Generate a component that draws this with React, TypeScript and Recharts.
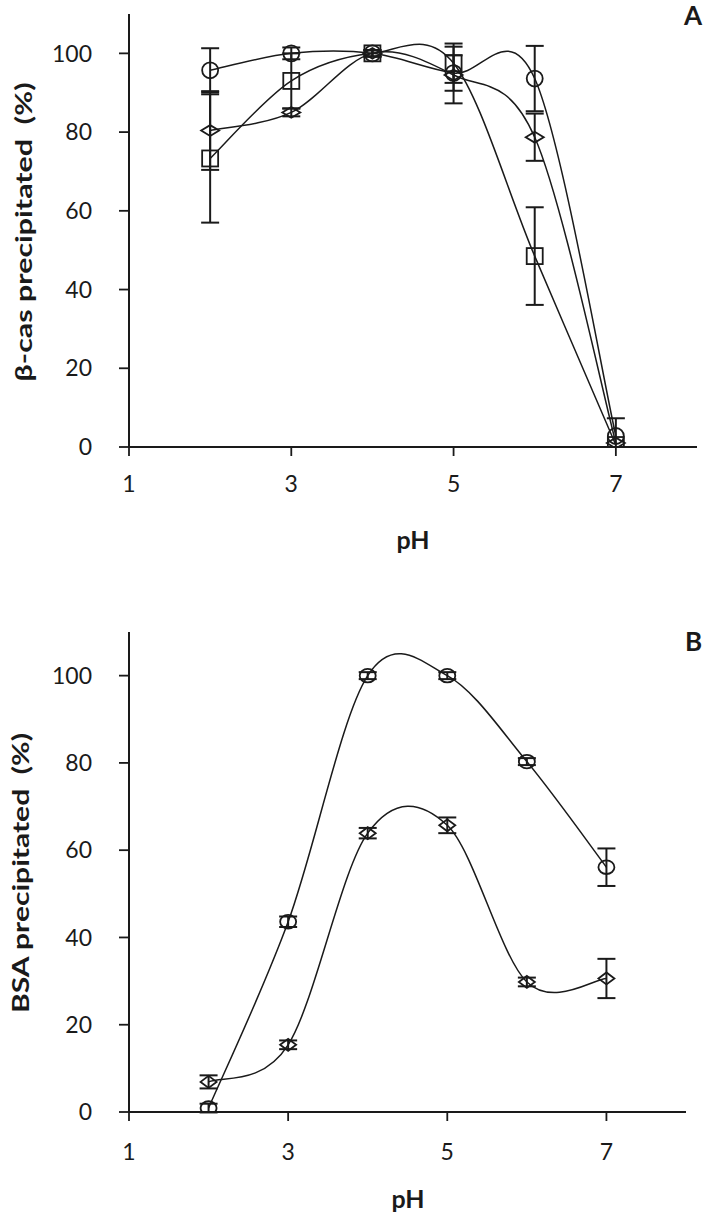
import React from "react";
import { LineChart, Line, XAxis, YAxis, ErrorBar } from "recharts";

// pH values shared by both panels
const phValues = [2, 3, 4, 5, 6, 7];
const phTicks = [1, 3, 5, 7];
const pctTicks = [0, 20, 40, 60, 80, 100];

// Panel A: beta-casein precipitated (%)
const casCircle = [95.7, 100, 100, 95, 93.6, 2.8];
const casCircleErr = [5.6, 1.5, 0.8, 4.5, 8.3, [2.8, 4.5]];
const casSquare = [73.3, 93, 100, 97.5, 48.5, 0.5];
const casSquareErr = [16.3, 7, 0.8, 5, 12.4, null];
const casDiamond = [80.4, 85, 100, 94.5, 78.7, 1];
const casDiamondErr = [10, 1, 0.8, 7.2, 6, null];

// Panel B: BSA precipitated (%)
const bsaCircle = [0.9, 43.6, 100, 100, 80.3, 56.1];
const bsaCircleErr = [1, 1.2, 0.8, 0.8, 0.8, 4.3];
const bsaDiamond = [6.9, 15.4, 63.9, 65.7, 29.8, 30.6];
const bsaDiamondErr = [1.5, 1, 1.2, 1.8, 1, 4.5];

const dataA = phValues.map((ph, i) => ({
  ph,
  circle: casCircle[i], circleErr: casCircleErr[i],
  square: casSquare[i], squareErr: casSquareErr[i],
  diamond: casDiamond[i], diamondErr: casDiamondErr[i],
}));

const dataB = phValues.map((ph, i) => ({
  ph,
  circle: bsaCircle[i], circleErr: bsaCircleErr[i],
  diamond: bsaDiamond[i], diamondErr: bsaDiamondErr[i],
}));

const FONT = "Lato, 'Open Sans', sans-serif";
const INK = "#1a1a1a";

// Excel-like smoothed line (Catmull-Rom through the points)
function smoothCurve(context: any) {
  let pts: number[][] = [];
  return {
    areaStart() {},
    areaEnd() {},
    lineStart() { pts = []; },
    point(x: number, y: number) { pts.push([+x, +y]); },
    lineEnd() {
      const n = pts.length;
      if (!n) return;
      context.moveTo(pts[0][0], pts[0][1]);
      for (let i = 0; i < n - 1; i++) {
        const p0 = pts[Math.max(i - 1, 0)];
        const p1 = pts[i];
        const p2 = pts[i + 1];
        const p3 = pts[Math.min(i + 2, n - 1)];
        context.bezierCurveTo(
          p1[0] + (p2[0] - p0[0]) / 6, p1[1] + (p2[1] - p0[1]) / 6,
          p2[0] - (p3[0] - p1[0]) / 6, p2[1] - (p3[1] - p1[1]) / 6,
          p2[0], p2[1],
        );
      }
    },
  };
}

function makeDot(shape: string, size = 8, flat = 1) {
  return (p: any) => {
    const { cx, cy, index } = p;
    if (cx == null || cy == null) return <g key={index} />;
    const common = { fill: "none", stroke: INK, strokeWidth: 1.8 };
    if (shape === "circle") {
      return <ellipse key={index} cx={cx} cy={cy} rx={size} ry={size * flat} {...common} />;
    }
    if (shape === "square") {
      return <rect key={index} x={cx - size} y={cy - size} width={size * 2} height={size * 2} {...common} />;
    }
    const h = size * flat;
    return (
      <path key={index} d={`M${cx - size},${cy}L${cx},${cy - h}L${cx + size},${cy}L${cx},${cy + h}Z`} {...common} />
    );
  };
}

function VTitle({ text, tx, ty, len }: { text: string; tx: number; ty: number; len: number }) {
  return (
    <text
      x={tx} y={ty} transform={`rotate(-90 ${tx} ${ty})`} textAnchor="middle" dominantBaseline="central"
      fontFamily={FONT} fontWeight="bold" fontSize={23} fill={INK}
      textLength={len} lengthAdjust="spacingAndGlyphs"
    >
      {text}
    </text>
  );
}

function HTitle({ text, tx, ty }: { text: string; tx: number; ty: number }) {
  return (
    <text x={tx} y={ty} textAnchor="middle" fontFamily={FONT} fontWeight="bold" fontSize={25} fill={INK}>
      {text}
    </text>
  );
}

const tickStyle = { fontFamily: FONT, fontSize: 23, fill: INK };
const axisLine = { stroke: INK, strokeWidth: 2 };
const tickLine = { stroke: INK, strokeWidth: 1.8 };

function Panel({ data, series, width, height, margin, xHeight, xTickMargin, yTitle, xTitle, letter, letterY }: any) {
  return (
    <LineChart width={width} height={height} data={data} margin={margin}>
      <XAxis
        dataKey="ph" type="number" domain={[1, 8]} ticks={phTicks} allowDataOverflow height={xHeight}
        tick={tickStyle} tickSize={9} tickMargin={xTickMargin}
        axisLine={axisLine} tickLine={tickLine}
        label={<HTitle text="pH" tx={xTitle.tx} ty={xTitle.ty} />}
      />
      <YAxis
        type="number" domain={[0, 110]} ticks={pctTicks} allowDataOverflow width={129}
        tick={tickStyle} tickSize={10} tickMargin={27}
        axisLine={axisLine} tickLine={tickLine}
        label={<VTitle text={yTitle.text} tx={yTitle.tx} ty={yTitle.ty} len={yTitle.len} />}
      />
      {series.map((s: any) => (
        <Line
          key={s.key} dataKey={s.key} type={smoothCurve as any} stroke={INK} strokeWidth={1.5}
          dot={makeDot(s.shape, s.size, s.flat)} activeDot={false} isAnimationActive={false}
        >
          <ErrorBar dataKey={s.key + "Err"} direction="y" width={9} stroke={INK} strokeWidth={2} isAnimationActive={false} />
        </Line>
      ))}
      <text x={702} y={letterY} textAnchor="end" fontFamily={FONT} fontWeight="bold" fontSize={26} fill={INK}>
        {letter}
      </text>
    </LineChart>
  );
}

const seriesA = [
  { key: "circle", shape: "circle", size: 8, flat: 1 },
  { key: "square", shape: "square", size: 8, flat: 1 },
  { key: "diamond", shape: "diamond", size: 9, flat: 0.6 },
];

const seriesB = [
  { key: "circle", shape: "circle", size: 8, flat: 0.85 },
  { key: "diamond", shape: "diamond", size: 8, flat: 0.75 },
];

export default function App() {
  return (
    <div style={{ position: "absolute", left: 0, top: 0, width: 703, height: 1216, background: "#fff" }}>
      <div style={{ position: "absolute", left: 0, top: 0 }}>
        <Panel
          data={dataA} series={seriesA} width={703} height={560}
          margin={{ top: 14, right: 6, left: 0, bottom: 0 }} xHeight={113}
          xTickMargin={20}
          yTitle={{ text: "β-cas precipitated\u00a0 (%)", tx: 23, ty: 232, len: 299 }}
          xTitle={{ tx: 413, ty: 549 }} letter="A" letterY={25}
        />
      </div>
      <div style={{ position: "absolute", left: 0, top: 560 }}>
        <Panel
          data={dataB} series={seriesB} width={703} height={656}
          margin={{ top: 72, right: 17, left: 0, bottom: 0 }} xHeight={104}
          xTickMargin={23}
          yTitle={{ text: "BSA precipitated\u00a0 (%)", tx: 20, ty: 313, len: 280 }}
          xTitle={{ tx: 408, ty: 648 }} letter="B" letterY={91}
        />
      </div>
    </div>
  );
}
